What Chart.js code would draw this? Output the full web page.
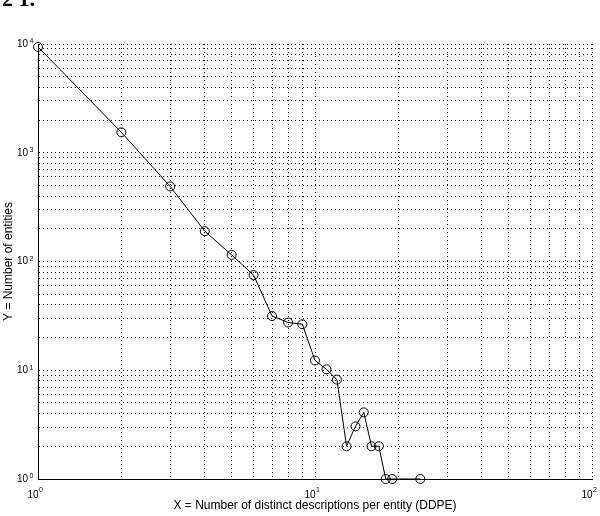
<!DOCTYPE html>
<html>
<head>
<meta charset="utf-8">
<script src="https://cdn.jsdelivr.net/npm/chart.js@4/dist/chart.umd.min.js"></script>
<style>
  html, body { margin: 0; padding: 0; background: #fff; }
</style>
</head>
<body>
<canvas id="ddpeChart" width="600" height="516"></canvas>
<script>
// DDPE values
const ddpe = [1, 2, 3, 4, 5, 6, 7, 8, 9, 10, 11, 12, 13, 14, 15, 16, 17, 18, 19, 24];
const entities = [9400, 1540, 490, 190, 115, 75, 31.5, 27.5, 26.5, 12.3, 10.2, 8.2, 2, 3.05, 4.1, 2, 2, 1, 1, 1];

// axis ranges; labels only on the powers of ten
const xDecades = [1, 10, 100];
const yDecades = [1, 10, 100, 1000, 10000];

// gridlines at 1..9 x each decade
function logTicks(decades) {
  const out = [];
  for (let i = 0; i < decades.length - 1; i++) {
    for (let m = 1; m < 10; m++) out.push({ value: m * decades[i] });
  }
  out.push({ value: decades[decades.length - 1] });
  return out;
}

function isDecade(v) {
  const e = Math.round(Math.log10(v));
  return Math.abs(v - Math.pow(10, e)) < 1e-9;
}

const family = "'Liberation Sans', Arial, sans-serif";
const tickFont = { family: family, size: 10 };
const titleFont = { family: family, size: 12 };

// exponents of the "10" tick labels, drawn small and raised
const exponents = {
  id: "exponents",
  afterDraw(chart) {
    const ctx = chart.ctx;
    const xs = chart.scales.x;
    const ys = chart.scales.y;
    ctx.save();
    ctx.fillStyle = "#000";
    ctx.font = "7px " + family;
    ctx.textBaseline = "top";
    ctx.textAlign = "left";
    xDecades.forEach((v) => {
      const px = xs.getPixelForValue(v);
      ctx.fillText(String(Math.round(Math.log10(v))), px + 1, 487);
    });
    yDecades.forEach((v) => {
      const py = ys.getPixelForValue(v);
      ctx.fillText(String(Math.round(Math.log10(v))), 29.5, py - 6);
    });
    // partly cut-off caption at the very top-left of the page
    ctx.font = "bold 22px 'Liberation Serif', serif";
    ctx.textBaseline = "alphabetic";
    ctx.fillText("2 1.", 2, 6);
    ctx.restore();
  }
};

const ctx = document.getElementById("ddpeChart").getContext("2d");
new Chart(ctx, {
  type: "line",
  data: {
    labels: ddpe,
    datasets: [
      {
        label: "Number of entities",
        data: ddpe.map((x, i) => ({ x: x, y: entities[i] })),
        borderColor: "#000",
        borderWidth: 1,
        backgroundColor: "rgba(0,0,0,0)",
        pointStyle: "circle",
        pointRadius: 4.5,
        pointBorderWidth: 1,
        pointBorderColor: "#000",
        pointBackgroundColor: "rgba(0,0,0,0)",
        tension: 0,
        clip: false,
      },
    ],
  },
  options: {
    responsive: false,
    animation: false,
    devicePixelRatio: 1,
    layout: { padding: { top: 44, right: 8, left: 0, bottom: 0 } },
    plugins: {
      legend: { display: false },
      tooltip: { enabled: false },
    },
    scales: {
      x: {
        type: "logarithmic",
        min: 1,
        max: 100,
        afterBuildTicks: (scale) => { scale.ticks = logTicks(xDecades); },
        afterFit: (scale) => {
          scale.height = 37;
          scale.paddingLeft = 0;
          scale.paddingRight = 0;
        },
        grid: { color: "#000", lineWidth: 1, drawTicks: false },
        border: { display: true, color: "#000", width: 1, dash: [1, 3] },
        ticks: {
          autoSkip: false,
          maxRotation: 0,
          padding: 10,
          labelOffset: -5,
          color: "#000",
          font: tickFont,
          callback: (v) => (isDecade(v) ? "10" : ""),
        },
        title: {
          display: true,
          text: "X = Number of distinct descriptions per entity (DDPE)",
          color: "#000",
          font: titleFont,
          padding: { top: 0, bottom: 3 },
        },
      },
      y: {
        type: "logarithmic",
        min: 1,
        max: 10000,
        afterBuildTicks: (scale) => { scale.ticks = logTicks(yDecades); },
        afterFit: (scale) => {
          scale.width = 38;
          scale.paddingTop = 0;
          scale.paddingBottom = 0;
        },
        grid: { color: "#000", lineWidth: 1, drawTicks: false },
        border: { display: true, color: "#000", width: 1, dash: [1, 3] },
        ticks: {
          autoSkip: false,
          padding: 10,
          color: "#000",
          font: tickFont,
          callback: (v) => (isDecade(v) ? "10" : ""),
        },
        title: {
          display: true,
          text: "Y = Number of entities",
          color: "#000",
          font: titleFont,
          padding: { top: 1, bottom: 0 },
        },
      },
    },
  },
  plugins: [exponents],
});
</script>
</body>
</html>
